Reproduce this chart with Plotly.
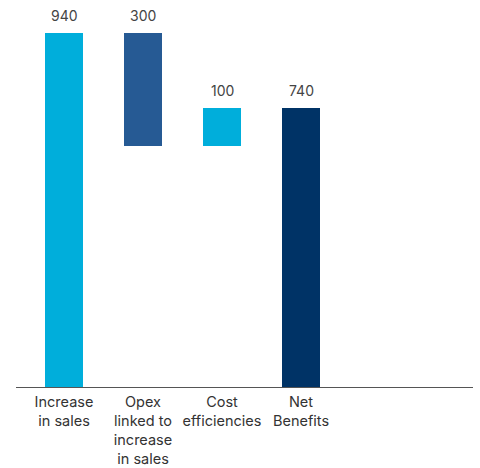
import plotly.graph_objects as go

categories = ["Increase<br>in sales", "Opex<br>linked to<br>increase<br>in sales", "Cost<br>efficiencies", "Net<br>Benefits"]
values = [940, -300, 100, 740]
measures = ["relative", "relative", "relative", "total"]
colors = ["#00AEDB", "#265A94", "#00AEDB", "#003366"]

# compute waterfall bases/heights
bases, heights, tops = [], [], []
running = 0
for v, m in zip(values, measures):
    if m == "total":
        bases.append(0); heights.append(v); running = v
    else:
        start = running
        running += v
        bases.append(min(start, running)); heights.append(abs(v))
    tops.append(bases[-1] + heights[-1])

xpos = list(range(len(categories)))
labels = [str(abs(v)) for v in values]

fig = go.Figure()
fig.add_trace(go.Bar(
    x=xpos, y=heights, base=bases,
    marker=dict(color=colors, line=dict(width=0)),
    width=0.481, hoverinfo="skip",
))
for x, t, lab in zip(xpos, tops, labels):
    fig.add_annotation(x=x, y=t, text=lab, showarrow=False, yanchor="bottom",
                       yshift=7, font=dict(size=14, color="#444444"))

fig.update_layout(
    width=480, height=468,
    margin=dict(l=16, r=7, t=10, b=81),
    paper_bgcolor="white", plot_bgcolor="white",
    font=dict(family="Inter, Roboto, sans-serif", color="#333333"),
    showlegend=False,
    bargap=0,
    xaxis=dict(range=[-0.6076, 5.177], tickmode="array", tickvals=xpos, ticktext=categories,
               showline=True, linecolor="#555555", linewidth=1, showgrid=False, zeroline=False,
               ticks="", tickfont=dict(size=14.5, color="#333333"), ticklabelstandoff=2,
               automargin=False),
    yaxis=dict(range=[0, 1000], visible=False, showgrid=False, automargin=False),
)
fig.write_html("out.html", config={"displayModeBar": False},
               post_script="document.body.style.margin='0';document.body.style.overflow='hidden';")
